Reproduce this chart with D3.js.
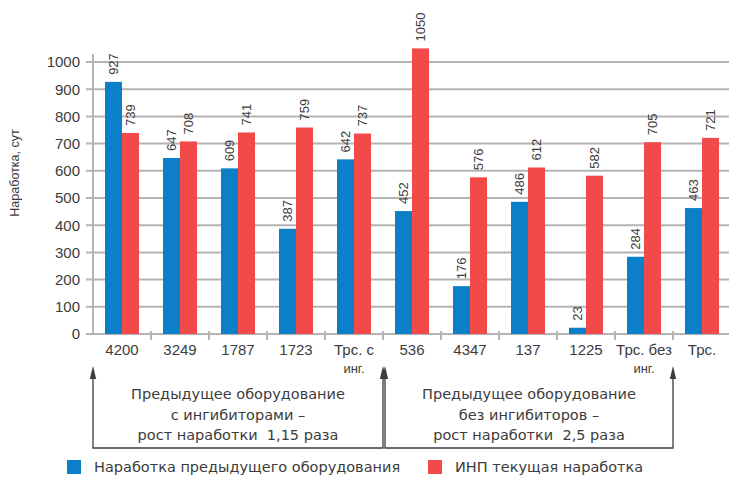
<!DOCTYPE html>
<html>
<head>
<meta charset="utf-8">
<script src="https://cdn.jsdelivr.net/npm/d3@7"></script>
<style>
  body { margin: 0; background: #fff; }
  svg { display: block; }
  text { fill: #3c3c3c; }
</style>
</head>
<body>
<svg id="chart"></svg>
<script>
// данные графика
var categories = ["4200", "3249", "1787", "1723", "Трс. с|инг.", "536", "4347", "137", "1225", "Трс. без|инг.", "Трс."];
var prevValues = [927, 647, 609, 387, 642, 452, 176, 486, 23, 284, 463];
var curValues  = [739, 708, 741, 759, 737, 1050, 576, 612, 582, 705, 721];
var yTicks = [0, 100, 200, 300, 400, 500, 600, 700, 800, 900, 1000];
var seriesNames = ["Наработка предыдущего оборудования", "ИНП текущая наработка"];
var groupNotes = [
  ["Предыдущее оборудование", "с ингибиторами –", "рост наработки  1,15 раза"],
  ["Предыдущее оборудование", "без ингибиторов –", "рост наработки  2,5 раза"]
];

var width = 729, height = 480;
var blue = "#0b80c8", red = "#f24a48", grid = "#b4b4b4", ink = "#3c3c3c";
var left = 93, right = 731, top0 = 62, bottom = 334;

var svg = d3.select("#chart").attr("width", width).attr("height", height);

var x = d3.scaleBand().domain(d3.range(categories.length)).range([left, right]);
var y = d3.scaleLinear().domain([0, 1000]).range([bottom, top0]);
var bw = 17;

// сетка
svg.append("g").selectAll("line").data(yTicks).enter().append("line")
  .attr("x1", left - 7).attr("x2", width)
  .attr("y1", function(d){return y(d);}).attr("y2", function(d){return y(d);})
  .attr("stroke", grid).attr("stroke-width", 2);

svg.append("line").attr("x1", left).attr("x2", left).attr("y1", top0 - 8).attr("y2", bottom)
  .attr("stroke", grid).attr("stroke-width", 2);

// подписи оси Y
svg.append("g").selectAll("text").data(yTicks).enter().append("text")
  .attr("x", left - 13).attr("y", function(d){return y(d);}).attr("dy", "0.36em")
  .attr("text-anchor", "end")
  .style("font", "15px 'Liberation Sans', Arial, sans-serif")
  .text(function(d){return d;});

svg.append("text")
  .attr("transform", "translate(19,173) rotate(-90)")
  .attr("text-anchor", "middle")
  .style("font", "12.5px 'Liberation Sans', Arial, sans-serif")
  .text("Наработка, сут");

// засечки оси X
svg.append("g").selectAll("line").data(d3.range(1, categories.length)).enter().append("line")
  .attr("x1", function(d){return x(d);}).attr("x2", function(d){return x(d);})
  .attr("y1", bottom - 3).attr("y2", bottom + 6)
  .attr("stroke", grid).attr("stroke-width", 2);

// столбцы
var groups = svg.append("g").selectAll("g").data(categories).enter().append("g")
  .attr("transform", function(d, i){
    return "translate(" + (x(i) + (x.bandwidth() - 2 * bw) / 2) + ",0)";
  });

groups.append("rect")
  .attr("x", 0).attr("width", bw)
  .attr("y", function(d, i){return y(prevValues[i]);})
  .attr("height", function(d, i){return bottom - y(prevValues[i]);})
  .attr("fill", blue);

groups.append("rect")
  .attr("x", bw).attr("width", bw)
  .attr("y", function(d, i){return y(curValues[i]);})
  .attr("height", function(d, i){return bottom - y(curValues[i]);})
  .attr("fill", red);

var labelFont = "13px 'Liberation Sans', Arial, sans-serif";
groups.append("text")
  .attr("transform", function(d, i){
    return "translate(" + (bw / 2 + 4.5) + "," + (y(prevValues[i]) - 7) + ") rotate(-90)";
  })
  .style("font", labelFont)
  .text(function(d, i){return prevValues[i];});

groups.append("text")
  .attr("transform", function(d, i){
    return "translate(" + (bw * 1.5 + 4.5) + "," + (y(curValues[i]) - 7) + ") rotate(-90)";
  })
  .style("font", labelFont)
  .text(function(d, i){return curValues[i];});

// подписи категорий
var catText = svg.append("g").selectAll("text").data(categories).enter().append("text")
  .attr("text-anchor", "middle")
  .attr("x", function(d, i){return x(i) + x.bandwidth() / 2;})
  .attr("y", 355)
  .style("font", "15px 'Liberation Sans', Arial, sans-serif");
catText.each(function(d){
  var parts = d.split("|"), t = d3.select(this);
  parts.forEach(function(p, k){
    t.append("tspan").attr("x", t.attr("x")).attr("dy", k ? 18 : 0)
      .style("font-size", k ? "13px" : null).text(p);
  });
});

// скобки со стрелками
var brackets = [[0, 4], [5, 9]];
brackets.forEach(function(b, k){
  var x1 = x(b[0]), x2 = x(b[1]) + x.bandwidth();
  if (k === 1) x1 += 2;
  var yb = 448, yt = 366;
  svg.append("path")
    .attr("d", "M" + x1 + "," + (yt + 6) + "V" + yb + "H" + x2 + "V" + (yt + 6))
    .attr("fill", "none").attr("stroke", ink).attr("stroke-width", 1.3);
  [x1, x2].forEach(function(ax){
    svg.append("path")
      .attr("d", "M" + ax + "," + yt + "L" + (ax + 3.2) + "," + (yt + 13) + "L" + (ax - 3.2) + "," + (yt + 13) + "Z")
      .attr("fill", ink);
  });
  var cx = (x1 + x2) / 2;
  svg.append("g").selectAll("text").data(groupNotes[k]).enter().append("text")
    .attr("x", cx).attr("y", function(d, j){return 399 + j * 20.5;})
    .attr("text-anchor", "middle")
    .style("font", "14.5px 'DejaVu Sans', sans-serif")
    .style("white-space", "pre")
    .text(function(d){return d;});
});

// легенда
var legend = svg.append("g").selectAll("g").data(seriesNames).enter().append("g")
  .attr("transform", function(d, i){return "translate(" + (i ? 428 : 67) + ",460)";});
legend.append("rect").attr("width", 14).attr("height", 14)
  .attr("fill", function(d, i){return i ? red : blue;});
legend.append("text").attr("x", 27).attr("y", 7).attr("dy", "0.36em")
  .style("font", "14.5px 'DejaVu Sans', sans-serif")
  .text(function(d){return d;});
</script>
</body>
</html>
